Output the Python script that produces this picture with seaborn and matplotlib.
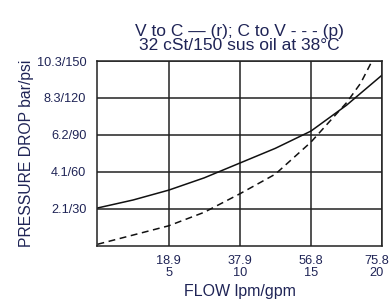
import matplotlib
matplotlib.use("Agg")
import matplotlib.pyplot as plt
import matplotlib.transforms as mtransforms
import pandas as pd
import seaborn as sns

# flow in gpm, pressure drop in psi
flow_r = [0, 2.5, 5, 7.5, 10, 12.5, 15, 17.5, 20]
dp_r = [30.5, 37, 45, 55, 67, 79, 93, 114, 138.5]

flow_p = [0, 2.5, 5, 7.5, 10, 12.5, 15, 17.5, 18.5, 19.3]
dp_p = [1, 8.5, 16, 27, 42, 58, 84, 116, 132, 150]

x_ticks = [5, 10, 15, 20]
x_labels = ["18.9\n5", "37.9\n10", "56.8\n15", "75.8\n20"]
y_ticks = [30, 60, 90, 120, 150]
y_labels = ["2.1/30", "4.1/60", "6.2/90", "8.3/120", "10.3/150"]

TEXT = "#1f2456"

sns.set_style("white")
plt.rcParams["font.family"] = ["Liberation Sans", "DejaVu Sans"]

fig = plt.figure(figsize=(3.89, 3.04), dpi=100)
ax = fig.add_axes([0.2506, 0.1924, 0.7314, 0.6069])

df_r = pd.DataFrame({"flow": flow_r, "dp": dp_r})
df_p = pd.DataFrame({"flow": flow_p, "dp": dp_p})
sns.lineplot(data=df_r, x="flow", y="dp", ax=ax, color="#111111", linewidth=1.1)
sns.lineplot(data=df_p, x="flow", y="dp", ax=ax, color="#111111", linewidth=1.1,
             linestyle=(0, (4.5, 3)))

ax.set_xlim(0, 20)
ax.set_ylim(0, 150)
ax.set_xticks(x_ticks)
ax.set_xticklabels(x_labels, linespacing=0.95)
ax.set_yticks(y_ticks)
ax.set_yticklabels(y_labels)
ax.tick_params(axis="both", length=0, labelsize=9.2, labelcolor=TEXT)
ax.tick_params(axis="x", pad=7)
ax.tick_params(axis="y", pad=8)

# last flow label sits on the figure edge, nudge it in a little
last = ax.get_xticklabels()[-1]
last.set_transform(last.get_transform() + mtransforms.ScaledTranslation(-4 / 72, 0, fig.dpi_scale_trans))

ax.grid(True, color="#222222", linewidth=1.1)
for s in ax.spines.values():
    s.set_visible(True)
    s.set_color("#222222")
    s.set_linewidth(1.1)

ax.set_xlabel("FLOW lpm/gpm", fontsize=11.5, color=TEXT, labelpad=4)
ax.set_ylabel("PRESSURE DROP bar/psi", fontsize=11.3, color=TEXT, labelpad=2)
ax.set_title("V to C \u2014 (r); C to V - - - (p)\n32 cSt/150 sus oil at 38\u00b0C",
             fontsize=12.5, color=TEXT, linespacing=0.9, pad=8)

fig.savefig("out.png", dpi=100)
